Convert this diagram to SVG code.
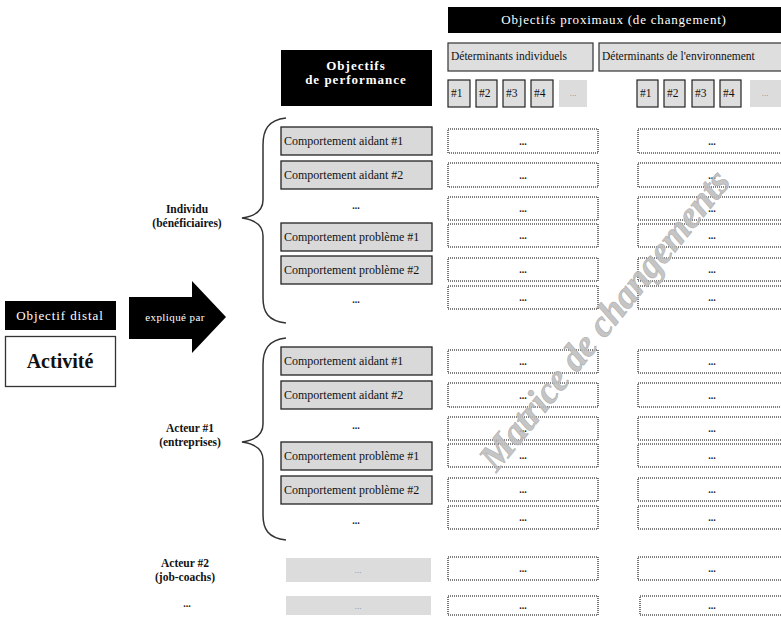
<svg xmlns="http://www.w3.org/2000/svg" width="781" height="618" viewBox="0 0 781 618">
<style>
text{font-family:"Liberation Serif","Times New Roman",serif;}
.blk{fill:#000;}
.wt{fill:#fff;}
.hdr{fill:#dedede;stroke:#333;stroke-width:1.2;}
.num{fill:#dedede;stroke:#222;stroke-width:1.2;}
.gry{fill:#dcdcdc;}
.cmp{fill:#d9d9d9;stroke:#222;stroke-width:1.3;}
.dot{fill:#fff;stroke:#555;stroke-width:1.6;stroke-dasharray:1 1;}
.t11{font-size:11.5px;fill:#111;}
.tc{font-size:12px;fill:#111;}
.dd{font-size:10px;font-weight:bold;fill:#222;text-anchor:middle;}
.dl{font-size:9px;fill:#888;text-anchor:middle;}
.lbl{font-size:11.5px;font-weight:bold;fill:#111;text-anchor:middle;}
.brace{fill:none;stroke:#333;stroke-width:1.5;}
</style>

<!-- Header -->
<g id="proximaux">
<rect class="blk" x="448" y="7" width="333" height="26"/>
<text x="614" y="24" class="wt" font-size="13" letter-spacing="0.8" text-anchor="middle">Objectifs proximaux (de changement)</text>
</g>
<g id="det-indiv">
<rect class="hdr" x="448" y="43" width="145" height="28"/>
<text x="451" y="60" class="t11">Déterminants individuels</text>
</g>
<g id="det-env">
<rect class="hdr" x="599" y="43" width="190" height="28"/>
<text x="602" y="60" class="t11">Déterminants de l'environnement</text>
</g>
<g id="performance">
<rect class="blk" x="281" y="50" width="151" height="56"/>
<text x="356" y="70" class="wt" font-size="13" font-weight="bold" letter-spacing="1" text-anchor="middle">Objectifs</text>
<text x="356" y="84" class="wt" font-size="13" font-weight="bold" letter-spacing="1" text-anchor="middle">de performance</text>
</g>
<g id="nums-indiv">
<rect class="num" x="448" y="80" width="22" height="27"/><text x="451" y="97" class="t11">#1</text>
<rect class="num" x="476" y="80" width="21" height="27"/><text x="479" y="97" class="t11">#2</text>
<rect class="num" x="503" y="80" width="22" height="27"/><text x="506" y="97" class="t11">#3</text>
<rect class="num" x="531" y="80" width="22" height="27"/><text x="534" y="97" class="t11">#4</text>
<rect class="gry" x="559" y="80" width="28" height="27"/><text x="573" y="96" class="dl">...</text>
</g>
<g id="nums-env">
<rect class="num" x="637" y="80" width="21" height="27"/><text x="640" y="97" class="t11">#1</text>
<rect class="num" x="664" y="80" width="21" height="27"/><text x="667" y="97" class="t11">#2</text>
<rect class="num" x="692" y="80" width="22" height="27"/><text x="695" y="97" class="t11">#3</text>
<rect class="num" x="720" y="80" width="21" height="27"/><text x="723" y="97" class="t11">#4</text>
<rect class="gry" x="750" y="80" width="35" height="27"/><text x="765" y="96" class="dl">...</text>
</g>

<!-- Left side -->
<g id="distal">
<rect class="blk" x="5" y="301" width="111" height="29"/>
<text x="60" y="320" class="wt" font-size="13" letter-spacing="0.9" text-anchor="middle">Objectif distal</text>
</g>
<g id="activite">
<rect x="5.5" y="336.5" width="110" height="50" fill="#fff" stroke="#333" stroke-width="1.3"/>
<text x="60" y="368" font-size="20" font-weight="bold" fill="#111" text-anchor="middle">Activité</text>
</g>
<g id="explique">
<polygon class="blk" points="129,297 192,297 192,281 226,317 192,353 192,339 129,339"/>
<text x="175" y="321" class="wt" font-size="11" letter-spacing="0.4" text-anchor="middle">expliqué par</text>
</g>

<!-- Actor labels -->
<g id="individu">
<text x="187" y="213" class="lbl">Individu</text>
<text x="187" y="227" class="lbl">(bénéficiaires)</text>
</g>
<g id="acteur1">
<text x="190" y="432" class="lbl">Acteur #1</text>
<text x="190" y="446" class="lbl">(entreprises)</text>
</g>
<g id="acteur2">
<text x="185" y="567" class="lbl">Acteur #2</text>
<text x="185" y="581" class="lbl">(job-coachs)</text>
</g>
<g id="acteur-more">
<text x="187" y="607" class="dd">...</text>
</g>

<!-- Braces -->
<g id="connectors">
<path class="brace" d="M286,118 C268,120 263,130 263,145 L263,200 C263,210 256,216 242,218 C256,220 263,226 263,236 L263,298 C263,312 268,321 286,323"/>
<path class="brace" d="M286,338 C268,340 263,350 263,365 L263,424 C263,434 256,440 242,442 C256,444 263,450 263,460 L263,515 C263,529 268,538 286,540"/>
</g>

<!-- Performance objectives: Individu -->
<g id="ind-a1"><rect class="cmp" x="281" y="127" width="151" height="28"/><text x="284" y="145" class="tc">Comportement aidant #1</text></g>
<g id="ind-a2"><rect class="cmp" x="281" y="161" width="151" height="28"/><text x="284" y="179" class="tc">Comportement aidant #2</text></g>
<g id="ind-d1"><text x="356" y="209" class="dd">...</text></g>
<g id="ind-p1"><rect class="cmp" x="281" y="223" width="151" height="28"/><text x="284" y="241" class="tc">Comportement problème #1</text></g>
<g id="ind-p2"><rect class="cmp" x="281" y="256" width="151" height="28"/><text x="284" y="274" class="tc">Comportement problème #2</text></g>
<g id="ind-d2"><text x="356" y="303" class="dd">...</text></g>

<!-- Performance objectives: Acteur 1 -->
<g id="a1-a1"><rect class="cmp" x="281" y="347" width="151" height="28"/><text x="284" y="365" class="tc">Comportement aidant #1</text></g>
<g id="a1-a2"><rect class="cmp" x="281" y="381" width="151" height="28"/><text x="284" y="399" class="tc">Comportement aidant #2</text></g>
<g id="a1-d1"><text x="356" y="429" class="dd">...</text></g>
<g id="a1-p1"><rect class="cmp" x="281" y="442" width="151" height="28"/><text x="284" y="460" class="tc">Comportement problème #1</text></g>
<g id="a1-p2"><rect class="cmp" x="281" y="476" width="151" height="28"/><text x="284" y="494" class="tc">Comportement problème #2</text></g>
<g id="a1-d2"><text x="356" y="524" class="dd">...</text></g>

<!-- Acteur 2 and more -->
<g id="a2-box"><rect class="gry" x="286" y="558" width="145" height="24"/><text x="358" y="573" class="dl">...</text></g>
<g id="more-box"><rect class="gry" x="286" y="596" width="145" height="19"/><text x="358" y="609" class="dl">...</text></g>

<!-- Matrix cells: left column -->
<g id="matrix-indiv">
<rect class="dot" x="448" y="129" width="150" height="24"/><text x="523" y="145" class="dd">...</text>
<rect class="dot" x="448" y="163" width="150" height="24"/><text x="523" y="179" class="dd">...</text>
<rect class="dot" x="448" y="197" width="150" height="23"/><text x="523" y="212" class="dd">...</text>
<rect class="dot" x="448" y="224" width="150" height="23"/><text x="523" y="239" class="dd">...</text>
<rect class="dot" x="448" y="258" width="150" height="23"/><text x="523" y="273" class="dd">...</text>
<rect class="dot" x="448" y="286" width="150" height="23"/><text x="523" y="301" class="dd">...</text>
<rect class="dot" x="448" y="350" width="150" height="23"/><text x="523" y="365" class="dd">...</text>
<rect class="dot" x="448" y="383" width="150" height="24"/><text x="523" y="399" class="dd">...</text>
<rect class="dot" x="448" y="417" width="150" height="23"/><text x="523" y="432" class="dd">...</text>
<rect class="dot" x="448" y="444" width="150" height="23"/><text x="523" y="459" class="dd">...</text>
<rect class="dot" x="448" y="478" width="150" height="23"/><text x="523" y="493" class="dd">...</text>
<rect class="dot" x="448" y="506" width="150" height="23"/><text x="523" y="521" class="dd">...</text>
<rect class="dot" x="448" y="557" width="150" height="23"/><text x="523" y="572" class="dd">...</text>
<rect class="dot" x="448" y="596" width="150" height="19"/><text x="523" y="609" class="dd">...</text>
</g>

<!-- Matrix cells: right column -->
<g id="matrix-env">
<rect class="dot" x="638" y="129" width="150" height="24"/><text x="712" y="145" class="dd">...</text>
<rect class="dot" x="638" y="163" width="150" height="24"/><text x="712" y="179" class="dd">...</text>
<rect class="dot" x="638" y="197" width="150" height="23"/><text x="712" y="212" class="dd">...</text>
<rect class="dot" x="638" y="224" width="150" height="23"/><text x="712" y="239" class="dd">...</text>
<rect class="dot" x="638" y="258" width="150" height="23"/><text x="712" y="273" class="dd">...</text>
<rect class="dot" x="638" y="286" width="150" height="23"/><text x="712" y="301" class="dd">...</text>
<rect class="dot" x="638" y="350" width="150" height="23"/><text x="712" y="365" class="dd">...</text>
<rect class="dot" x="638" y="383" width="150" height="24"/><text x="712" y="399" class="dd">...</text>
<rect class="dot" x="638" y="417" width="150" height="23"/><text x="712" y="432" class="dd">...</text>
<rect class="dot" x="638" y="444" width="150" height="23"/><text x="712" y="459" class="dd">...</text>
<rect class="dot" x="638" y="478" width="150" height="23"/><text x="712" y="493" class="dd">...</text>
<rect class="dot" x="638" y="506" width="150" height="23"/><text x="712" y="521" class="dd">...</text>
<rect class="dot" x="638" y="557" width="150" height="23"/><text x="712" y="572" class="dd">...</text>
<rect class="dot" x="640" y="596" width="150" height="19"/><text x="712" y="609" class="dd">...</text>
</g>

<!-- Watermark -->
<g id="watermark">
<text x="0" y="0" transform="translate(614,328) rotate(-51)" font-size="38" font-style="italic" font-weight="bold" fill="#bdbdbd" fill-opacity="0.9" stroke="#a8a8a8" stroke-width="0.5" letter-spacing="-0.5" text-anchor="middle">Matrice de changements</text>
</g>
</svg>
